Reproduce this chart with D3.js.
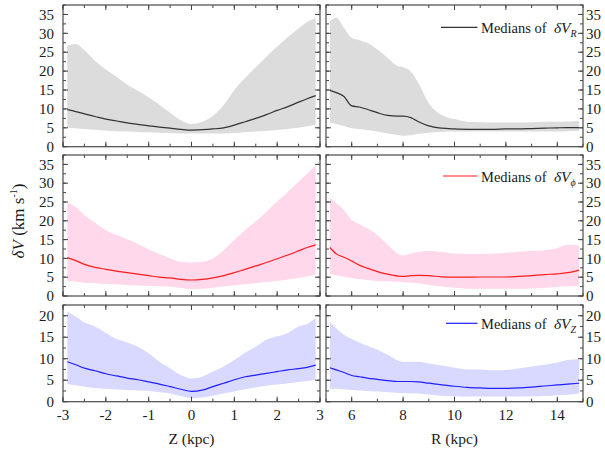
<!DOCTYPE html>
<html>
<head>
<meta charset="utf-8">
<script src="https://cdn.jsdelivr.net/npm/d3@7"></script>
<style>
  body { margin: 0; background: #fff; }
</style>
</head>
<body>
<svg id="chart" width="605" height="454"></svg>
<script>
// x grids
let zKpc = [-2.9, -2.7, -2.5, -2.25, -2.0, -1.75, -1.5, -1.25, -1.0, -0.75, -0.5, -0.25, 0,
            0.25, 0.5, 0.75, 1.0, 1.25, 1.5, 1.75, 2.0, 2.25, 2.5, 2.7, 2.9];
let rKpc = [5.15, 5.4, 5.7, 6.0, 6.3, 6.6, 7.0, 7.4, 7.8, 8.0, 8.3, 8.6, 9.0, 9.5, 10,
            10.5, 11, 11.5, 12, 12.5, 13, 13.5, 14, 14.4, 14.85];

// dV_R vs Z
let vrZMed = [9.8, 9.3, 8.7, 8.0, 7.3, 6.8, 6.3, 5.9, 5.5, 5.2, 4.9, 4.6, 4.4,
              4.5, 4.7, 5.0, 5.7, 6.6, 7.5, 8.5, 9.6, 10.6, 11.8, 12.7, 13.5];
let vrZLo  = [5.1, 4.9, 4.7, 4.5, 4.3, 4.1, 4.0, 3.9, 3.8, 3.7, 3.6, 3.5, 3.5,
              3.5, 3.5, 3.5, 3.6, 3.8, 4.0, 4.2, 4.4, 4.7, 5.0, 5.4, 5.8];
let vrZHi  = [26.8, 27.2, 25.5, 22.7, 20.4, 18.5, 16.4, 14.8, 13.0, 11.1, 9.0, 7.0, 6.0,
              6.6, 8.2, 11.0, 15.0, 18.2, 21.0, 23.8, 26.5, 29.0, 31.3, 33.0, 34.0];
// dV_R vs R
let vrRMed = [14.9, 14.3, 13.3, 10.8, 10.5, 9.9, 9.0, 8.3, 8.1, 8.1, 7.7, 6.6, 5.5, 4.9, 4.7,
              4.6, 4.6, 4.6, 4.7, 4.7, 4.8, 4.9, 5.0, 5.05, 5.05];
let vrRLo  = [6.4, 6.0, 5.5, 4.9, 4.7, 4.4, 4.0, 3.5, 3.1, 2.9, 3.0, 3.4, 3.7, 3.9, 4.0,
              4.0, 4.0, 4.0, 4.0, 4.0, 4.0, 4.0, 4.0, 4.1, 4.2];
let vrRHi  = [33.2, 34.1, 31.4, 28.8, 28.2, 27.5, 25.7, 23.5, 21.3, 21.0, 19.9, 16.8, 11.5, 8.4, 7.3,
              6.6, 6.5, 6.4, 6.4, 6.4, 6.5, 6.6, 6.6, 6.7, 6.9];

// dV_phi vs Z
let vpZMed = [10.2, 9.4, 8.4, 7.6, 7.1, 6.6, 6.2, 5.8, 5.4, 5.0, 4.8, 4.4, 4.25,
              4.4, 4.8, 5.4, 6.2, 7.1, 8.0, 8.9, 9.9, 10.9, 12.0, 12.9, 13.6];
let vpZLo  = [4.0, 3.8, 3.5, 3.4, 3.2, 3.1, 2.9, 2.8, 2.7, 2.6, 2.5, 2.1, 1.8,
              1.9, 2.2, 2.5, 2.8, 3.1, 3.4, 3.7, 4.0, 4.4, 4.8, 5.2, 5.8];
let vpZHi  = [24.8, 23.7, 21.5, 19.5, 17.5, 16.2, 15.1, 13.8, 12.4, 11.2, 10.0, 9.1, 8.9,
              9.1, 10.0, 12.2, 14.9, 17.5, 19.8, 22.4, 25.1, 27.7, 30.4, 32.6, 34.8];
// dV_phi vs R
let vpRMed = [12.9, 11.2, 10.3, 9.3, 8.2, 7.4, 6.5, 5.8, 5.3, 5.2, 5.4, 5.5, 5.4, 5.1, 5.0,
              5.0, 5.05, 5.05, 5.05, 5.2, 5.4, 5.7, 5.9, 6.2, 6.9];
let vpRLo  = [5.8, 5.5, 5.1, 4.7, 4.5, 4.25, 4.0, 3.9, 3.8, 3.7, 3.5, 3.4, 2.9, 2.5, 2.2,
              1.95, 1.95, 1.95, 1.95, 1.95, 2.0, 2.2, 2.4, 2.6, 2.7];
let vpRHi  = [26.2, 24.6, 22.9, 20.2, 19.1, 18.0, 16.2, 13.6, 11.2, 10.8, 11.3, 11.8, 12.0, 11.8, 11.3,
              11.2, 11.2, 11.3, 11.5, 11.8, 12.0, 12.2, 12.7, 13.6, 13.4];

// dV_Z vs Z
let vzZMed = [9.3, 8.6, 7.8, 7.2, 6.5, 6.0, 5.5, 5.1, 4.6, 4.1, 3.5, 2.9, 2.4,
              2.7, 3.5, 4.3, 5.1, 5.8, 6.2, 6.6, 7.0, 7.4, 7.7, 8.0, 8.5];
let vzZLo  = [4.1, 3.8, 3.5, 3.2, 3.0, 2.85, 2.7, 2.6, 2.5, 2.2, 1.9, 1.3, 0.8,
              1.0, 1.4, 1.9, 2.4, 2.9, 3.3, 3.7, 4.0, 4.3, 4.6, 4.8, 5.1];
let vzZHi  = [21.0, 19.8, 18.4, 17.5, 16.0, 14.6, 13.8, 12.8, 11.3, 9.3, 7.8, 6.2, 5.4,
              5.8, 7.0, 8.2, 9.7, 11.4, 12.8, 14.4, 15.2, 16.0, 17.5, 18.1, 19.5];
// dV_Z vs R
let vzRMed = [7.9, 7.4, 6.8, 6.1, 5.8, 5.5, 5.2, 4.9, 4.7, 4.7, 4.7, 4.6, 4.3, 3.9, 3.6,
              3.35, 3.2, 3.1, 3.1, 3.2, 3.4, 3.65, 3.9, 4.1, 4.3];
let vzRLo  = [3.1, 3.0, 2.9, 2.7, 2.6, 2.5, 2.35, 2.2, 2.05, 2.0, 1.95, 1.9, 1.7, 1.4, 1.25,
              1.2, 1.2, 1.2, 1.2, 1.2, 1.25, 1.3, 1.5, 1.6, 1.9];
let vzRHi  = [18.4, 17.1, 15.6, 14.6, 13.8, 13.0, 12.1, 10.9, 9.6, 9.3, 9.3, 9.3, 8.9, 8.4, 7.9,
              7.5, 7.5, 7.3, 7.4, 7.7, 8.2, 8.6, 9.1, 9.7, 9.9];

let legendSubs = ['R', '\u03d5', 'Z'];
let fills = ['#dcdcdc', '#ffd8eb', '#d9d9ff'];
let lines = ['#333333', '#ff1c1c', '#1f1fff'];
let yMax = [37.5, 37.5, 22.5];
let yTickMax = [35, 35, 20];

let FONT = 'Liberation Serif';
let INK = '#1a1a1a';
let svg = d3.select('#chart');

let cols = [
  { x0: 63, x1: 320, domain: [-3, 3], major: d3.range(-3, 3.01, 1), minor: d3.range(-3, 3.01, 0.5), xs: zKpc, title: 'Z (kpc)' },
  { x0: 326, x1: 583, domain: [5, 15], major: d3.range(6, 14.01, 2), minor: d3.range(5, 15.01, 1), xs: rKpc, title: 'R (kpc)' }
];
let rows = [
  { y0: 5, y1: 146.7 },
  { y0: 155, y1: 296 },
  { y0: 305, y1: 401.7 }
];
let series = [
  [[vrZLo, vrZMed, vrZHi], [vrRLo, vrRMed, vrRHi]],
  [[vpZLo, vpZMed, vpZHi], [vpRLo, vpRMed, vpRHi]],
  [[vzZLo, vzZMed, vzZHi], [vzRLo, vzRMed, vzRHi]]
];

rows.forEach(function(row, ri) {
  cols.forEach(function(col, ci) {
    let x = d3.scaleLinear().domain(col.domain).range([col.x0, col.x1]);
    let y = d3.scaleLinear().domain([0, yMax[ri]]).range([row.y1, row.y0]);
    let s = series[ri][ci];
    let pts = col.xs.map(function(v, i) { return { x: v, lo: s[0][i], med: s[1][i], hi: s[2][i] }; });
    let g = svg.append('g');

    g.append('path').datum(pts)
      .attr('fill', fills[ri])
      .attr('d', d3.area().curve(d3.curveMonotoneX)
        .x(function(d) { return x(d.x); })
        .y0(function(d) { return y(d.lo); })
        .y1(function(d) { return y(d.hi); }));

    g.append('path').datum(pts)
      .attr('fill', 'none')
      .attr('stroke', lines[ri])
      .attr('stroke-width', 1.2)
      .attr('d', d3.line().curve(d3.curveMonotoneX)
        .x(function(d) { return x(d.x); })
        .y(function(d) { return y(d.med); }));

    // inward ticks on all four sides
    let yMajor = d3.range(0, yTickMax[ri] + 0.01, 5);
    let yMinor = d3.range(0, yMax[ri] + 0.01, 2.5);
    let tk = g.append('g').attr('stroke', '#444').attr('stroke-width', 1);
    function xt(vals, len) {
      vals.forEach(function(v) {
        let px = x(v);
        tk.append('line').attr('x1', px).attr('x2', px).attr('y1', row.y1).attr('y2', row.y1 - len);
        tk.append('line').attr('x1', px).attr('x2', px).attr('y1', row.y0).attr('y2', row.y0 + len);
      });
    }
    function yt(vals, len) {
      vals.forEach(function(v) {
        let py = y(v);
        tk.append('line').attr('y1', py).attr('y2', py).attr('x1', col.x0).attr('x2', col.x0 + len);
        tk.append('line').attr('y1', py).attr('y2', py).attr('x1', col.x1).attr('x2', col.x1 - len);
      });
    }
    xt(col.minor, 3); xt(col.major, 5);
    yt(yMinor, 3); yt(yMajor, 5);

    g.append('rect')
      .attr('x', col.x0).attr('y', row.y0)
      .attr('width', col.x1 - col.x0).attr('height', row.y1 - row.y0)
      .attr('fill', 'none').attr('stroke', '#4a4a4a').attr('stroke-width', 1.2);

    // y labels
    g.selectAll('.ylab').data(yMajor).enter().append('text')
      .attr('x', ci === 0 ? col.x0 - 9 : col.x1 + 3)
      .attr('y', function(d) { return y(d); })
      .attr('dy', '0.35em')
      .attr('text-anchor', ci === 0 ? 'end' : 'start')
      .attr('font-family', FONT).attr('font-size', 15).attr('fill', INK)
      .text(function(d) { return d; });

    if (ri === 2) {
      g.selectAll('.xlab').data(col.major).enter().append('text')
        .attr('x', function(d) { return x(d); })
        .attr('y', row.y1 + 18)
        .attr('text-anchor', 'middle')
        .attr('font-family', FONT).attr('font-size', 15).attr('fill', INK)
        .text(function(d) { return d; });
      g.append('text')
        .attr('x', (col.x0 + col.x1) / 2).attr('y', 444)
        .attr('text-anchor', 'middle')
        .attr('font-family', FONT).attr('font-size', 15.5).attr('fill', INK)
        .text(col.title);
    }

    if (ci === 1) {
      let ly = [27.3, 176, 323.3][ri];
      let lx = [441, 443, 446][ri];
      g.append('line').attr('x1', lx).attr('x2', 477.5).attr('y1', ly).attr('y2', ly)
        .attr('stroke', lines[ri]).attr('stroke-width', 1.2);
      let t = g.append('text').attr('x', 481).attr('y', ly + 5.5)
        .attr('font-family', FONT).attr('font-size', 14.5).attr('fill', INK);
      t.append('tspan').text('Medians of \u00a0');
      t.append('tspan').attr('font-style', 'italic').attr('font-size', 15.5).text('\u03b4V');
      t.append('tspan').attr('font-style', 'italic').attr('font-size', 10).attr('dy', 4).text(legendSubs[ri]);
    }
  });
});

// shared y title
let ytl = svg.append('text')
  .attr('transform', 'translate(24,221) rotate(-90)')
  .attr('text-anchor', 'middle')
  .attr('font-family', FONT).attr('font-size', 17).attr('fill', INK);
ytl.append('tspan').attr('font-style', 'italic').text('\u03b4V');
ytl.append('tspan').text(' (km s');
ytl.append('tspan').attr('font-size', 10).attr('dy', -7).text('-1');
ytl.append('tspan').attr('dy', 7).text(')');
</script>
</body>
</html>
